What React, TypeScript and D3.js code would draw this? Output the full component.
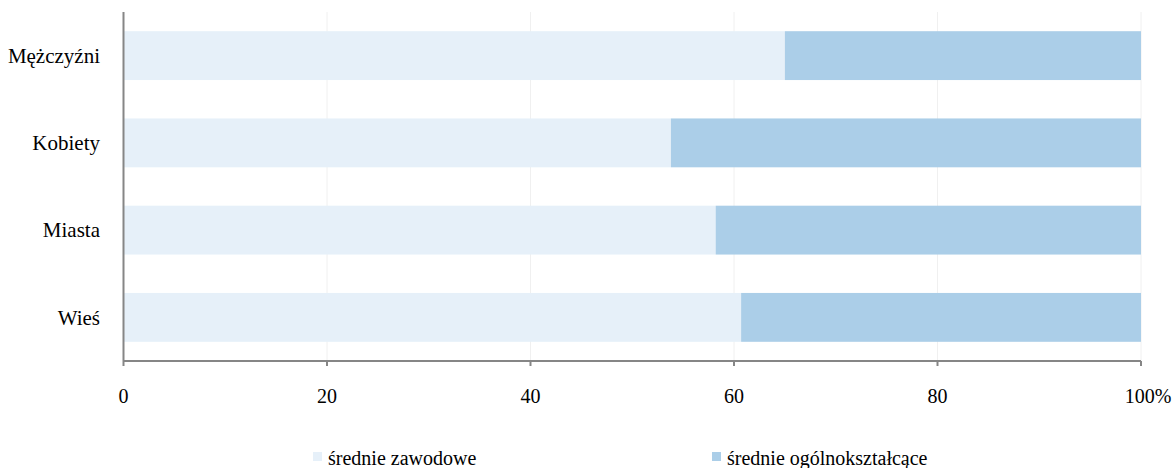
import React from "react";
import * as d3 from "d3";

const categories = ["Mężczyźni", "Kobiety", "Miasta", "Wieś"];
const zawodowe = [65.0, 53.8, 58.2, 60.7];
const ogolne = [35.0, 46.2, 41.8, 39.3];
const seriesNames = ["średnie zawodowe", "średnie ogólnokształcące"];
const ticks = [0, 20, 40, 60, 80, 100];
const colors = ["#e6f0f9", "#abcee8"];

export default function App() {
  const W = 1176, H = 468;
  const left = 123.5, right = 1141, top = 12, bottom = 361;
  const x = d3.scaleLinear().domain([0, 100]).range([left, right]);
  const y = d3.scaleBand().domain(categories).range([top, bottom]).paddingInner(0.44).paddingOuter(0.22);
  const font = '"Liberation Serif", "DejaVu Serif", "Times New Roman", serif';
  return (
    <svg width={W} height={H} style={{ position: "absolute", left: 0, top: 0, background: "#fff", fontFamily: font }}>
      {ticks.slice(1).map((t) => (
        <line key={"g" + t} x1={x(t)} x2={x(t)} y1={top} y2={bottom} stroke="#f0f0f0" strokeWidth={1} />
      ))}
      {categories.map((c, i) => {
        const y0 = y(c)!;
        return (
          <g key={c}>
            <rect x={x(0)} y={y0} width={x(zawodowe[i]) - x(0)} height={y.bandwidth()} fill={colors[0]} />
            <rect x={x(zawodowe[i])} y={y0} width={x(zawodowe[i] + ogolne[i]) - x(zawodowe[i])} height={y.bandwidth()} fill={colors[1]} />
            <text x={100} y={y0 + y.bandwidth() / 2} dy="0.35em" textAnchor="end" fontSize={21} fill="#000" style={{ fontFamily: font }}>{c}</text>
          </g>
        );
      })}
      <line x1={left} x2={left} y1={top} y2={bottom} stroke="#868686" strokeWidth={2} />
      <line x1={left} x2={right} y1={bottom} y2={bottom} stroke="#868686" strokeWidth={2} />
      {ticks.map((t) => (
        <g key={"t" + t}>
          <line x1={x(t)} x2={x(t)} y1={bottom} y2={bottom + 5} stroke="#868686" strokeWidth={2} />
          <text x={x(t) + (t === 100 ? 7 : 0)} y={403} textAnchor="middle" fontSize={20} fill="#000" style={{ fontFamily: font }}>
            {t === 100 ? "100%" : t}
          </text>
        </g>
      ))}
      {seriesNames.map((s, i) => {
        const lx = i === 0 ? 313 : 712;
        return (
          <g key={s}>
            <rect x={lx} y={452} width={9} height={9} fill={colors[i]} />
            <text x={lx + 15} y={465} fontSize={20} fill="#000" style={{ fontFamily: font }}>{s}</text>
          </g>
        );
      })}
    </svg>
  );
}
